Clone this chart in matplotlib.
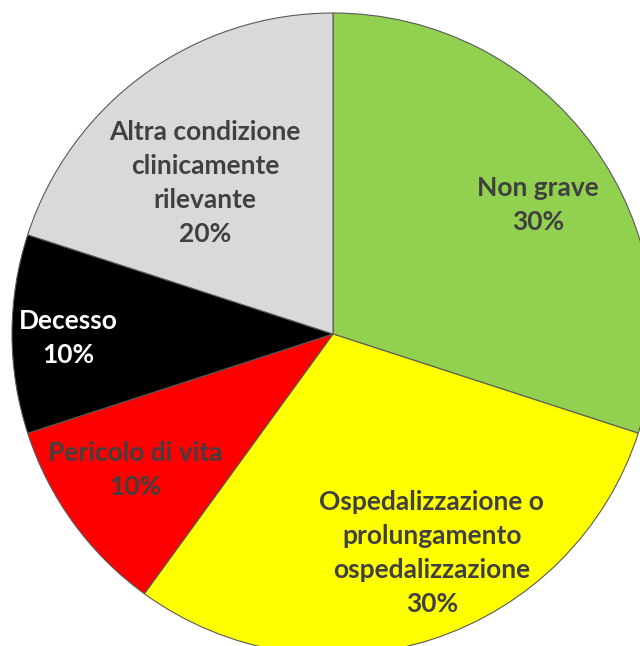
import matplotlib.pyplot as plt

categories = ['Non grave', 'Ospedalizzazione o\nprolungamento\nospedalizzazione',
              'Pericolo di vita', 'Decesso', 'Altra condizione\nclinicamente\nrilevante']
values = [30, 30, 10, 10, 20]
colors = ['#92D050', '#FFFF00', '#FF0000', '#000000', '#D9D9D9']
text_colors = ['#404040', '#404040', '#404040', '#FFFFFF', '#404040']

# label positions (data coords, pie radius = 1)
label_pos = [(0.639, 0.402), (0.308, -0.682), (-0.617, -0.424),
             (-0.826, -0.012), (-0.399, 0.470)]

fig = plt.figure(figsize=(6.4, 6.46), dpi=100)
ax = fig.add_axes([0, 0, 1, 1])

wedges, _ = ax.pie(values, colors=colors, startangle=90, counterclock=False,
                   radius=1, wedgeprops={'edgecolor': '#595959', 'linewidth': 0.8})

for cat, val, pos, tc in zip(categories, values, label_pos, text_colors):
    ax.text(pos[0], pos[1], f'{cat}\n{val}%', ha='center', va='center',
            color=tc, fontsize=19, fontweight='bold', family='Lato',
            linespacing=1.5)

ax.set_xlim(-333 / 321, (640 - 333) / 321)
ax.set_ylim((334 - 646) / 321, 334 / 321)
ax.set_aspect('equal')
ax.axis('off')

plt.savefig('out.png', dpi=100)
plt.close()
